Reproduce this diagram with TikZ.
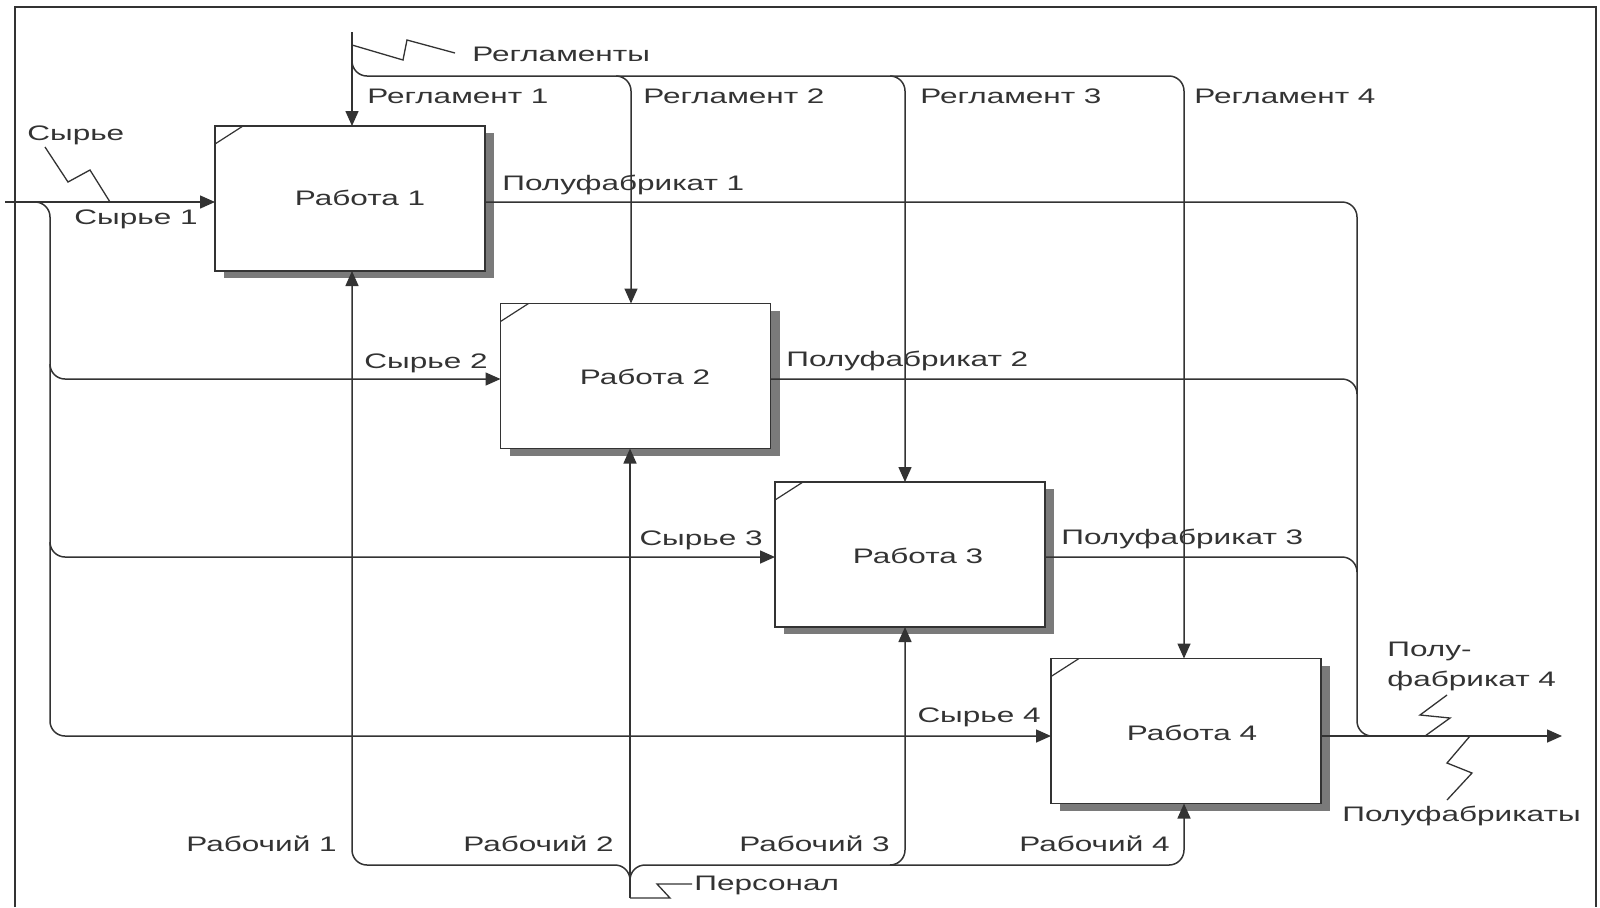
\documentclass[tikz,border=0pt]{standalone}
\usepackage{fontspec}
\setmainfont{Liberation Sans}
\usepackage{graphicx}
\usetikzlibrary{arrows.meta,shadows}
\definecolor{ink}{HTML}{333333}
\definecolor{shadowgray}{HTML}{7A7A7A}
% labels in this chart are set wide
\newcommand\wide[1]{\scalebox{1.5}[1]{#1}}

\begin{document}
\begin{tikzpicture}[x=0.5pt,y=-0.5pt,
  flow/.style={draw=ink,line width=0.75pt},
  arr/.style={-{Triangle[length=7.5pt,width=6.5pt]}},
  softturn/.style={rounded corners=7.5pt},
  bolt/.style={draw=ink,line width=0.65pt},
  lbl/.style={inner sep=0pt,text=ink,font=\fontsize{10.5}{15}\selectfont},
  work/.style={draw=ink,line width=0.8pt,fill=white,minimum width=135pt,
    minimum height=72.5pt,inner sep=0pt,outer sep=0pt,
    drop shadow={shadow xshift=4.5pt,shadow yshift=-3.5pt,fill=shadowgray,opacity=1}},
  frame/.style={draw=ink,line width=1.3pt}]

\useasboundingbox (0,0) rectangle (1600,907);
\fill[white] (0,0) rectangle (1600,907);
\draw[frame] (15,907) -- (15,7) -- (1596,7) -- (1596,907);

% activity boxes
\node[work] (b1) at (350,198.5) {};
\node[work] (b2) at (635.5,376) {};
\node[work] (b3) at (910,554.5) {};
\node[work] (b4) at (1186,731) {};
\foreach \b in {b1,b2,b3,b4}
  \draw[ink,line width=0.6pt] ([yshift=-9pt]\b.north west) -- ([xshift=14pt]\b.north west);

\node[lbl] (t1) at (360,198) {\wide{Работа 1}};
\node[lbl] (t2) at (645,377) {\wide{Работа 2}};
\node[lbl] (t3) at (918,556) {\wide{Работа 3}};
\node[lbl] (t4) at (1192,733) {\wide{Работа 4}};

% inputs: raw material
\coordinate (rawsrc) at (5,202);
\coordinate (rawtop) at (30,202);
\coordinate (rawbus) at (50,202);
\coordinate (in2) at (50,379);
\coordinate (in3) at (50,557);
\coordinate (in4) at (50,736);
\draw[flow,arr] (rawsrc) -- (b1.west |- rawsrc);
\draw[flow,softturn,arr] (rawtop) -- (rawbus) -- (in4) -- (b4.west |- in4);
\draw[flow,softturn,arr] ([yshift=7.5pt]in2) -- (in2) -- (b2.west |- in2);
\draw[flow,softturn,arr] ([yshift=7.5pt]in3) -- (in3) -- (b3.west |- in3);

% controls: regulations
\coordinate (regsrc) at (352,32);
\coordinate (regturn) at (352,76);
\coordinate (c2) at (631,76);
\coordinate (c3) at (905,76);
\coordinate (c4) at (1184,76);
\draw[flow,arr] (regsrc) -- (b1.north -| regsrc);
\draw[flow,softturn,arr] ([yshift=7.5pt]regturn) -- (regturn) -- (c4) -- (b4.north -| c4);
\draw[flow,softturn,arr] ([xshift=-7.5pt]c2) -- (c2) -- (b2.north -| c2);
\draw[flow,softturn,arr] ([xshift=-7.5pt]c3) -- (c3) -- (b3.north -| c3);

% mechanisms: staff
\coordinate (staff) at (630,898);
\coordinate (mjoin) at (630,865);
\coordinate (m1) at (352,865);
\coordinate (m3) at (905,865);
\coordinate (m4) at (1184,865);
\draw[flow,arr] (staff) -- (b2.south -| staff);
\draw[flow,softturn,arr] ([yshift=-7.5pt]mjoin) -- (mjoin) -- (m1) -- (b1.south -| m1);
\draw[flow,softturn,arr] ([yshift=-7.5pt]mjoin) -- (mjoin) -- (m4) -- (b4.south -| m4);
\draw[flow,softturn,arr] ([xshift=-7.5pt]m3) -- (m3) -- (b3.south -| m3);

% outputs: semi-finished products
\coordinate (o1) at (1357,202);
\coordinate (o2) at (1357,379);
\coordinate (o3) at (1357,557);
\coordinate (o4) at (1357,736);
\coordinate (outend) at (1562,736);
\draw[flow,softturn] (b1.east |- o1) -- (o1) -- (o4) -- ([xshift=7.5pt]o4);
\draw[flow,softturn] (b2.east |- o2) -- (o2) -- ([yshift=-7.5pt]o2);
\draw[flow,softturn] (b3.east |- o3) -- (o3) -- ([yshift=-7.5pt]o3);
\draw[flow,arr] (b4.east |- o4) -- (outend);

% arrow labels
\node[lbl,anchor=west] (lraw) at (27,135) {\wide{Сырье}};
\node[lbl,anchor=east] (lraw1) at (198,219) {\wide{Сырье 1}};
\node[lbl,anchor=east] (lraw2) at (488,363) {\wide{Сырье 2}};
\node[lbl,anchor=east] (lraw3) at (763,540) {\wide{Сырье 3}};
\node[lbl,anchor=east] (lraw4) at (1041,717) {\wide{Сырье 4}};

\node[lbl,anchor=west] (lregs) at (472,54) {\wide{Регламенты}};
\node[lbl,anchor=west] (lreg1) at (367,96) {\wide{Регламент 1}};
\node[lbl,anchor=west] (lreg2) at (643,96) {\wide{Регламент 2}};
\node[lbl,anchor=west] (lreg3) at (920,96) {\wide{Регламент 3}};
\node[lbl,anchor=west] (lreg4) at (1194,96) {\wide{Регламент 4}};

\node[lbl,anchor=west] (lout1) at (502,185) {\wide{Полуфабрикат 1}};
\node[lbl,anchor=west] (lout2) at (786,361) {\wide{Полуфабрикат 2}};
\node[lbl,anchor=west] (lout3) at (1061,539) {\wide{Полуфабрикат 3}};
\node[lbl,anchor=north west,align=left] (lout4) at (1387,642) {\wide{Полу-}\\\wide{фабрикат 4}};
\node[lbl,anchor=west] (louts) at (1342,816) {\wide{Полуфабрикаты}};

\node[lbl,anchor=east] (lw1) at (337,844) {\wide{Рабочий 1}};
\node[lbl,anchor=east] (lw2) at (614,844) {\wide{Рабочий 2}};
\node[lbl,anchor=east] (lw3) at (890,844) {\wide{Рабочий 3}};
\node[lbl,anchor=east] (lw4) at (1170,844) {\wide{Рабочий 4}};
\node[lbl,anchor=west] (lstaff) at (694,885) {\wide{Персонал}};

% squiggles tying group names to their arrows
\draw[bolt] (45,147) -- (68,182) -- (90,170) -- (110,202);
\draw[bolt] (352,45) -- (403,60) -- (407,40) -- (455,53);
\draw[bolt] (staff) -- (670,898) -- (657,884) -- (692,884);
\draw[bolt] (1447,695) -- (1420,715) -- (1450,718) -- (1425,736);
\draw[bolt] (1470,736) -- (1447,763) -- (1472,773) -- (1447,800);
\end{tikzpicture}
\end{document}
